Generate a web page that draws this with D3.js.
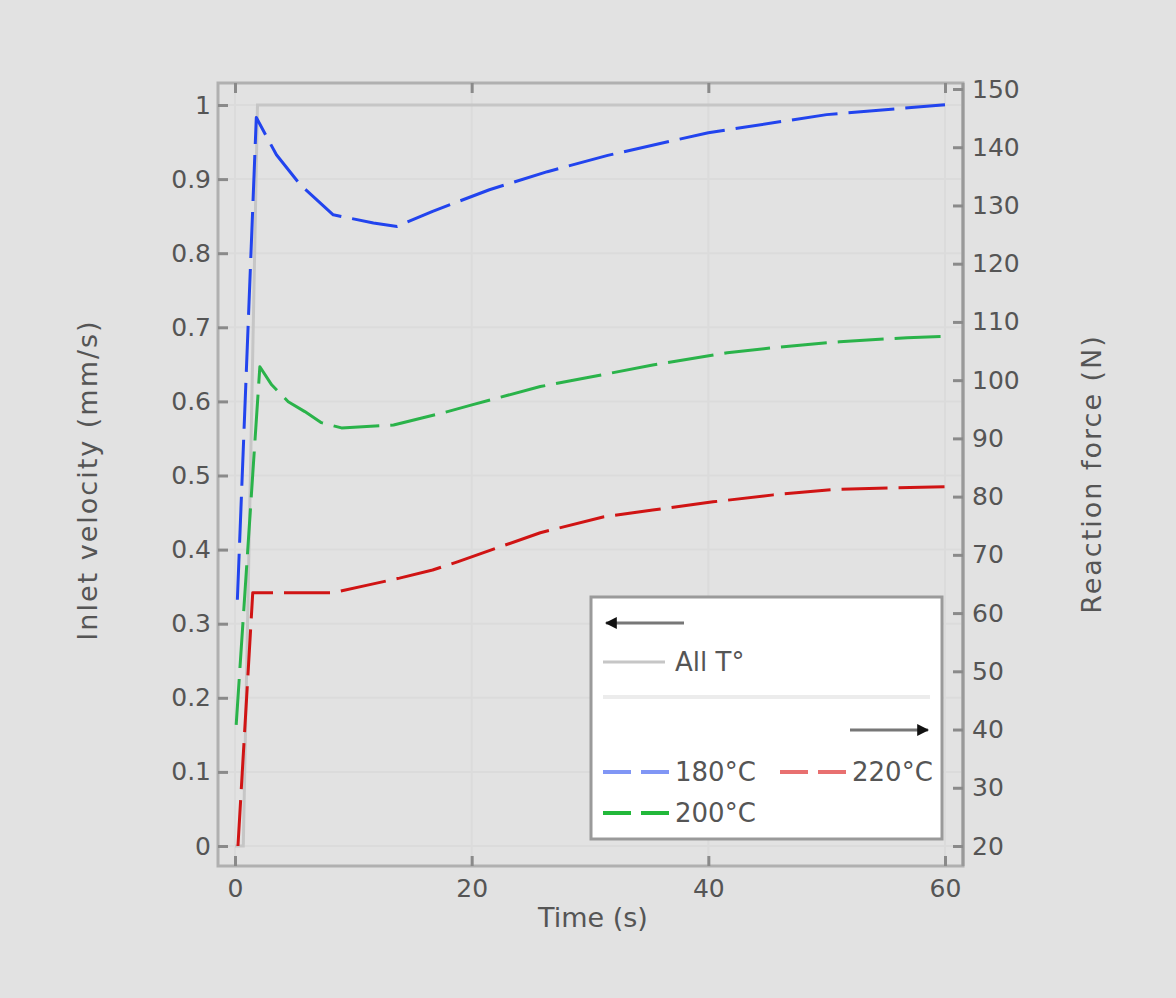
<!DOCTYPE html>
<html>
<head>
<meta charset="utf-8">
<script src="https://cdn.jsdelivr.net/npm/d3@7/dist/d3.min.js"></script>
<style>
  html, body { margin: 0; padding: 0; background: #e2e2e2; }
  svg { display: block; }
  text { font-family: "DejaVu Sans", sans-serif; fill: #555555; }
</style>
</head>
<body>
<svg id="chart" width="1176" height="998"></svg>
<script>
// ---------- data ----------
const xTicks = [0, 20, 40, 60];
const leftTicks = [0, 0.1, 0.2, 0.3, 0.4, 0.5, 0.6, 0.7, 0.8, 0.9, 1];
const leftTickLabels = ["0", "0.1", "0.2", "0.3", "0.4", "0.5", "0.6", "0.7", "0.8", "0.9", "1"];
const rightTicks = [20, 30, 40, 50, 60, 70, 80, 90, 100, 110, 120, 130, 140, 150];

// inlet velocity (mm/s), all temperatures
const velTime  = [0, 0.7, 1.9, 60];
const velValue = [0, 0, 1, 1];

// reaction force (N)
const time180  = [0.2, 1.8, 3.5, 5.5, 8.3, 11.7, 13.7, 16.7, 21.5, 26.4, 31.5, 40, 50, 60];
const force180 = [62.3, 145.1, 138.7, 133.6, 128.4, 127.0, 126.4, 129.0, 132.7, 135.8, 138.6, 142.5, 145.6, 147.3];

const time200  = [0.1, 2.1, 3.1, 4.5, 5.9, 7.3, 9.0, 13.4, 17.6, 20.1, 25.8, 29.7, 35.3, 41.6, 46.1, 51.1, 56.8, 60];
const force200 = [40.8, 102.3, 99.2, 96.3, 94.6, 92.7, 91.8, 92.3, 94.4, 95.8, 98.9, 100.4, 102.6, 104.7, 105.7, 106.6, 107.3, 107.5];

const time220  = [0.25, 1.5, 6.9, 8.3, 11.2, 13.9, 16.7, 18.8, 25.8, 31.1, 35.3, 40.4, 45.5, 50.5, 55.6, 60];
const force220 = [20, 63.5, 63.5, 63.5, 64.8, 66.0, 67.4, 68.8, 73.8, 76.5, 77.7, 79.1, 80.3, 81.2, 81.5, 81.7];

const seriesNames = ["180°C", "200°C", "220°C"];
const velLabel = "All T°";

// ---------- layout ----------
const svg = d3.select("#chart");
const frame = { left: 218, right: 963, top: 83, bottom: 866 };

const x  = d3.scaleLinear().domain([0, 60]).range([235, 945]);
const yL = d3.scaleLinear().domain([0, 1]).range([846, 105]);
const yR = d3.scaleLinear().domain([20, 150]).range([846, 89]);

const colors = { c180: "#2244ee", c200: "#2ab34a", c220: "#d01414", vel: "#c6c6c6" };
const legendColors = { c180: "#8096f5", c200: "#22b83a", c220: "#e87070" };

// grid
const grid = svg.append("g");
grid.selectAll("line.h").data(leftTicks).join("line")
  .attr("x1", frame.left + 2).attr("x2", frame.right - 2)
  .attr("y1", d => yL(d)).attr("y2", d => yL(d))
  .attr("stroke", "#dbdbdb").attr("stroke-width", 2);
grid.selectAll("line.v").data(xTicks).join("line")
  .attr("y1", frame.top + 2).attr("y2", frame.bottom - 2)
  .attr("x1", d => x(d)).attr("x2", d => x(d))
  .attr("stroke", "#dbdbdb").attr("stroke-width", 2);

// velocity line (left axis)
const velData = velTime.map((t, i) => [t, velValue[i]]);
svg.append("path").datum(velData)
  .attr("d", d3.line().x(d => x(d[0])).y(d => yL(d[1])))
  .attr("fill", "none").attr("stroke", colors.vel).attr("stroke-width", 3);

// force curves (right axis)
const lineR = d3.line().x(d => x(d[0])).y(d => yR(d[1]));
const curves = [
  { t: time180, f: force180, c: colors.c180 },
  { t: time200, f: force200, c: colors.c200 },
  { t: time220, f: force220, c: colors.c220 }
];
curves.forEach(s => {
  svg.append("path").datum(s.t.map((t, i) => [t, s.f[i]]))
    .attr("d", lineR)
    .attr("fill", "none").attr("stroke", s.c).attr("stroke-width", 3)
    .attr("stroke-dasharray", "46,11").attr("stroke-linejoin", "round");
});

// frame
svg.append("rect")
  .attr("x", frame.left).attr("y", frame.top)
  .attr("width", frame.right - frame.left).attr("height", frame.bottom - frame.top)
  .attr("fill", "none").attr("stroke", "#b0b0b0").attr("stroke-width", 3);
svg.append("line")
  .attr("x1", frame.right).attr("x2", frame.right)
  .attr("y1", frame.top).attr("y2", frame.bottom)
  .attr("stroke", "#999").attr("stroke-width", 3);

function styleAxis(g) {
  g.select(".domain").remove();
  g.selectAll(".tick line").attr("stroke", "#8a8a8a").attr("stroke-width", 3);
  g.selectAll(".tick text").style("font-family", "DejaVu Sans, sans-serif")
    .style("font-size", "25px").attr("fill", "#555555");
}

// axes
svg.append("g").attr("transform", `translate(${frame.left},0)`)
  .call(d3.axisLeft(yL).tickValues(leftTicks)
    .tickFormat((d, i) => leftTickLabels[i]).tickSize(-10).tickPadding(7))
  .call(styleAxis);

svg.append("g").attr("transform", `translate(${frame.right},0)`)
  .call(d3.axisRight(yR).tickValues(rightTicks).tickSize(-10).tickPadding(9))
  .call(styleAxis);

svg.append("g").attr("transform", `translate(0,${frame.bottom})`)
  .call(d3.axisBottom(x).tickValues(xTicks).tickSize(-10).tickPadding(13))
  .call(styleAxis);

svg.append("g").attr("transform", `translate(0,${frame.top})`)
  .call(d3.axisTop(x).tickValues(xTicks).tickSize(-10).tickFormat(""))
  .call(styleAxis);

// axis titles
svg.append("text").attr("x", 593).attr("y", 927)
  .attr("text-anchor", "middle").style("font-size", "27px").text("Time (s)");
svg.append("text").attr("transform", "translate(97,480) rotate(-90)")
  .attr("text-anchor", "middle").style("font-size", "27px").style("letter-spacing", "2px")
  .text("Inlet velocity (mm/s)");
svg.append("text").attr("transform", "translate(1101,474) rotate(-90)")
  .attr("text-anchor", "middle").style("font-size", "27px").style("letter-spacing", "2px")
  .text("Reaction force (N)");

// ---------- legend ----------
const defs = svg.append("defs");
defs.append("marker").attr("id", "arrow").attr("viewBox", "0 0 10 10")
  .attr("refX", 9).attr("refY", 5).attr("markerWidth", 4).attr("markerHeight", 4)
  .attr("orient", "auto-start-reverse")
  .append("path").attr("d", "M0,0 L10,5 L0,10 z").attr("fill", "#111");

const lg = svg.append("g");
lg.append("rect").attr("x", 591).attr("y", 597).attr("width", 351).attr("height", 242)
  .attr("fill", "#ffffff").attr("stroke", "#9a9a9a").attr("stroke-width", 3);

// left arrow
lg.append("line").attr("x1", 684).attr("x2", 606).attr("y1", 623).attr("y2", 623)
  .attr("stroke", "#777").attr("stroke-width", 3).attr("marker-end", "url(#arrow)");
// velocity entry
lg.append("line").attr("x1", 603).attr("x2", 665).attr("y1", 662).attr("y2", 662)
  .attr("stroke", colors.vel).attr("stroke-width", 3);
lg.append("text").attr("x", 675).attr("y", 662).attr("dy", "0.36em")
  .style("font-size", "26px").text(velLabel);
// separator
lg.append("line").attr("x1", 603).attr("x2", 930).attr("y1", 697).attr("y2", 697)
  .attr("stroke", "#ececec").attr("stroke-width", 4);
// right arrow
lg.append("line").attr("x1", 850).attr("x2", 928).attr("y1", 730).attr("y2", 730)
  .attr("stroke", "#777").attr("stroke-width", 3).attr("marker-end", "url(#arrow)");

const legendItems = [
  { name: seriesNames[0], c: legendColors.c180, lx: 603, ly: 772 },
  { name: seriesNames[2], c: legendColors.c220, lx: 780, ly: 772 },
  { name: seriesNames[1], c: legendColors.c200, lx: 603, ly: 813 }
];
legendItems.forEach(it => {
  lg.append("line").attr("x1", it.lx).attr("x2", it.lx + 66)
    .attr("y1", it.ly).attr("y2", it.ly)
    .attr("stroke", it.c).attr("stroke-width", 4).attr("stroke-dasharray", "28,10");
  lg.append("text").attr("x", it.lx + 72).attr("y", it.ly).attr("dy", "0.36em")
    .style("font-size", "26px").text(it.name);
});
</script>
</body>
</html>
